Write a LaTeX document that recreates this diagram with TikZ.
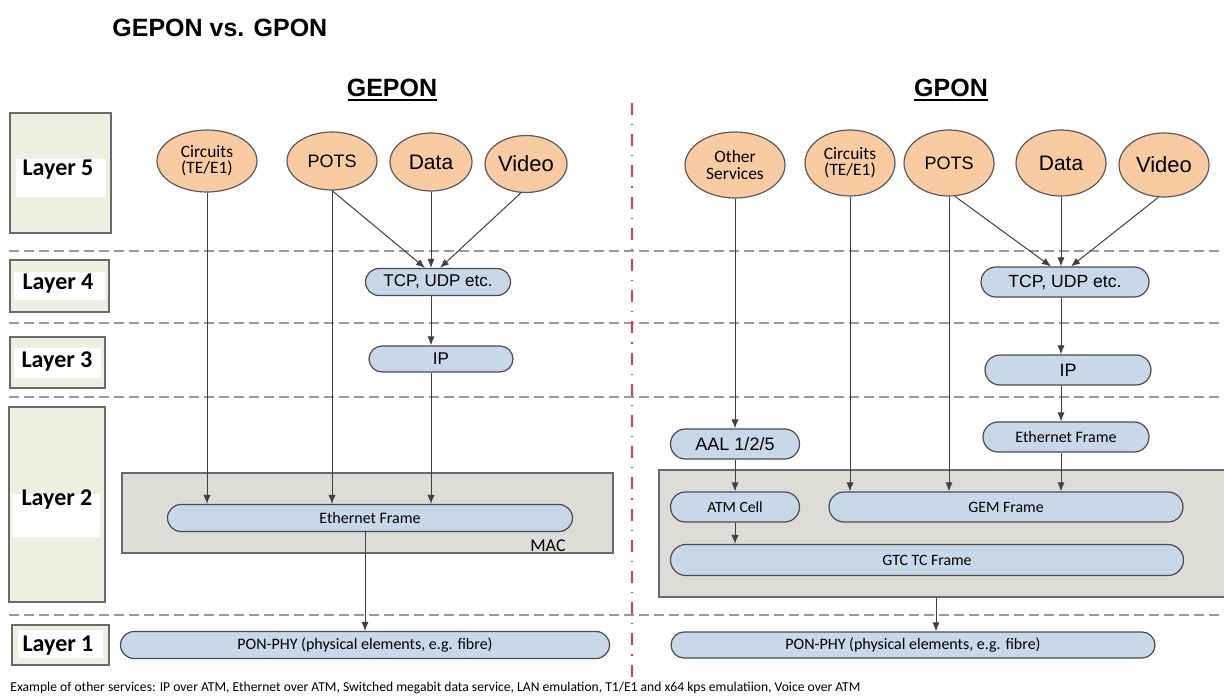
\documentclass[tikz,border=0pt]{standalone}
\usepackage{fontspec}
\setmainfont{Carlito}
\newfontfamily\arial{Liberation Sans}
\usetikzlibrary{shapes.geometric,shapes.misc,arrows.meta,calc}
\definecolor{peach}{HTML}{F8CBA3}
\definecolor{svcline}{HTML}{5A5A5A}
\definecolor{pillblue}{HTML}{C8D8E8}
\definecolor{pillline}{HTML}{4A4A4A}
\definecolor{grpgray}{HTML}{DEDCD9}
\definecolor{grpline}{HTML}{6A6A6A}
\definecolor{beige}{HTML}{EEEFE0}
\definecolor{lyrline}{HTML}{6A6A6A}
\definecolor{arrline}{HTML}{404040}
\definecolor{sepgray}{HTML}{9A9A9A}
\definecolor{redline}{HTML}{E8334A}
\newcommand\fsz[2]{\fontsize{#1pt}{#2pt}\selectfont}
\begin{document}
\begin{tikzpicture}[x=0.5pt,y=-0.5pt,
  svc/.style={ellipse,draw=svcline,fill=peach,line width=0.6pt,inner sep=0pt,align=center},
  pill/.style={rounded rectangle,draw=pillline,fill=pillblue,line width=0.6pt,inner sep=0pt},
  grp/.style={rectangle,draw=grpline,fill=grpgray,line width=0.8pt,inner sep=0pt},
  lyrbox/.style={draw=lyrline,fill=beige,line width=0.7pt},
  lyrtxt/.style={inner sep=0pt,font=\bfseries\fsz{12}{13}},
  arr/.style={draw=arrline,line width=0.5pt,-{Latex[length=4.5pt,width=3.6pt]}},
  sep/.style={draw=sepgray,line width=1pt,dash pattern=on 5pt off 2.5pt},
  ar/.style={font=\arial\fsz{#1}{#1}},
  cb/.style={font=\fsz{#1}{#1}},
]
\useasboundingbox (0,0) rectangle (1224,700);
\fill[white] (0,0) rectangle (1224,700);

% title and headers
\node[anchor=west,inner sep=0pt,font=\arial\bfseries\fsz{12.5}{14}] (title) at (112,28) {GEPON vs. GPON};
\node[inner sep=0pt,font=\arial\bfseries\fsz{12.5}{14}] (hA) at (392,88) {GEPON};
\node[inner sep=0pt,font=\arial\bfseries\fsz{12.5}{14}] (hB) at (951,88) {GPON};
\draw[line width=1pt] (348,100) -- (437,100);
\draw[line width=1pt] (914,100) -- (988,100);

% separators
\draw[sep] (9,251) -- (1224,251);
\draw[sep] (9,323) -- (1224,323);
\draw[sep] (9,397) -- (1224,397);
\draw[sep] (9,615) -- (1224,615);
\draw[draw=redline,line width=0.8pt,dash pattern=on 6pt off 4.5pt on 0.6pt off 4.5pt] (632,103) -- (632,678);

% layer boxes
\draw[lyrbox] (10,113) rectangle (111,233);
\fill[white] (16,159) rectangle (106,197);
\node[lyrtxt] (L5) at (58,170) {Layer 5};
\draw[lyrbox] (10,260) rectangle (109,312);
\fill[white] (14,272) rectangle (105,300);
\node[lyrtxt] (L4) at (58,284) {Layer 4};
\draw[lyrbox] (10,337) rectangle (105,388);
\fill[white] (14,348) rectangle (101,378);
\node[lyrtxt] (L3) at (57,362) {Layer 3};
\draw[lyrbox] (9,407) rectangle (105,602);
\fill[white] (12,494) rectangle (100,537);
\node[lyrtxt] (L2) at (57,500) {Layer 2};
\draw[lyrbox] (12,625) rectangle (109,665);
\fill[white] (18,630) rectangle (103,658);
\node[lyrtxt] (L1) at (58,646) {Layer 1};

% ===== GEPON =====
\node[svc,minimum width=50pt,minimum height=31pt,cb={8.7}] (c1) at (207,161) {Circuits\\[-0.5pt](TE/E1)};
\node[svc,minimum width=45pt,minimum height=29pt,ar={9}] (p1) at (332,161) {POTS};
\node[svc,minimum width=41pt,minimum height=29pt,ar={10.5}] (d1) at (431,162) {Data};
\node[svc,minimum width=41pt,minimum height=28.5pt,ar={11}] (v1) at (526,164) {Video};

\node[pill,minimum width=72.5pt,minimum height=13.5pt,ar={8.5}] (tcp1) at (438,282) {TCP, UDP etc.};
\node[pill,minimum width=72pt,minimum height=13pt,ar={8.5}] (ip1) at (441,359) {IP};
\node[grp,minimum width=245.5pt,minimum height=40pt] (mac1) at (367.5,513) {};
\node[anchor=south east,inner sep=0pt,cb={9}] (maclbl) at (566,552) {MAC};
\node[pill,minimum width=202.5pt,minimum height=13.5pt,cb={8}] (ef1) at (370,518) {Ethernet Frame};
\node[pill,minimum width=244.5pt,minimum height=13.5pt,cb={8}] (pon1) at (365,645) {PON-PHY (physical elements, e.g. fibre)};

\draw[arr] (c1.south) -- (c1.south |- ef1.north);
\draw[arr] (p1.south) -- (p1.south |- ef1.north);
\draw[arr] (d1.south) -- (d1.south |- tcp1.north);
\draw[arr] (p1.south) -- ($(tcp1.north)+(-13,0)$);
\draw[arr] (v1.-100) -- ($(tcp1.north)+(2,0)$);
\draw[arr] (d1.south |- tcp1.south) -- (d1.south |- ip1.north);
\draw[arr] (d1.south |- ip1.south) -- (d1.south |- ef1.north);
\draw[arr] (pon1.north |- ef1.south) -- (pon1.north);

% ===== GPON =====
\node[svc,minimum width=50pt,minimum height=33pt,cb={8.7}] (os) at (735,165) {Other\\[-0.5pt]Services};
\node[svc,minimum width=45pt,minimum height=33pt,cb={8.7}] (c2) at (850,163) {Circuits\\[-0.5pt](TE/E1)};
\node[svc,minimum width=45pt,minimum height=33pt,ar={9}] (p2) at (949,163) {POTS};
\node[svc,minimum width=45pt,minimum height=33pt,ar={10.5}] (d2) at (1061,163) {Data};
\node[svc,minimum width=45pt,minimum height=32pt,ar={11}] (v2) at (1164,165) {Video};

\node[pill,minimum width=84pt,minimum height=15pt,ar={8.8}] (tcp2) at (1065,282) {TCP, UDP etc.};
\node[pill,minimum width=83pt,minimum height=15pt,ar={9}] (ip2) at (1068,370) {IP};
\node[pill,minimum width=83pt,minimum height=15pt,cb={8}] (ef2) at (1066,437) {Ethernet Frame};
\node[pill,minimum width=64.5pt,minimum height=15pt,ar={9}] (aal) at (735,444) {AAL 1/2/5};

\node[grp,minimum width=288pt,minimum height=63.5pt] (gbox) at (947,533.5) {};
\node[pill,minimum width=64.5pt,minimum height=15pt,cb={7.8}] (atm) at (735,507) {ATM Cell};
\node[pill,minimum width=177pt,minimum height=15pt,cb={7.9}] (gem) at (1006,507) {GEM Frame};
\node[pill,minimum width=256.5pt,minimum height=15.5pt,cb={7.9}] (gtc) at (927,560) {GTC TC Frame};
\node[pill,minimum width=242pt,minimum height=13pt,cb={8}] (pon2) at (913,645) {PON-PHY (physical elements, e.g. fibre)};
\coordinate (gout) at ($(gbox.south)+(-11,0)$);

\draw[arr] (os.south) -- (os.south |- aal.north);
\draw[arr] (aal.south) -- (aal.south |- atm.north);
\draw[arr] (atm.south) -- (atm.south |- gtc.north);
\draw[arr] (c2.south) -- (c2.south |- gem.north);
\draw[arr] (p2.south) -- (p2.south |- gem.north);
\draw[arr] (d2.south) -- (d2.south |- tcp2.north);
\draw[arr] (p2.-80) -- ($(tcp2.north)+(-14,0)$);
\draw[arr] (v2.-100) -- ($(tcp2.north)+(6,0)$);
\draw[arr] (d2.south |- tcp2.south) -- (d2.south |- ip2.north);
\draw[arr] (d2.south |- ip2.south) -- (d2.south |- ef2.north);
\draw[arr] (d2.south |- ef2.south) -- (d2.south |- gem.north);
\draw[arr] (gout) -- (gout |- pon2.north);

% footer
\node[anchor=west,inner sep=0pt,cb={6.8}] (foot) at (10,688) {Example of other services: IP over ATM, Ethernet over ATM, Switched megabit data service, LAN emulation, T1/E1 and x64 kps emulatiion, Voice over ATM};
\end{tikzpicture}
\end{document}
